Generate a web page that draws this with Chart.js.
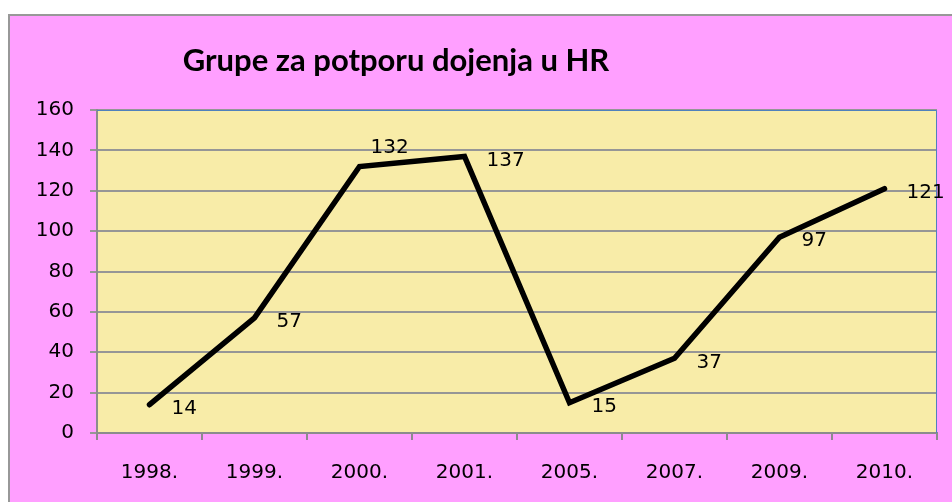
<!DOCTYPE html>
<html>
<head>
<meta charset="utf-8">
<script src="https://cdn.jsdelivr.net/npm/chart.js@4"></script>
<style>
    html, body { margin: 0; padding: 0; background: #ffffff; }
    #wrap { width: 952px; height: 502px; }
</style>
</head>
<body>
<div id="wrap"><canvas id="breastfeedingChart" width="952" height="502"></canvas></div>
<script>
// Chart data
const years = ['1998.', '1999.', '2000.', '2001.', '2005.', '2007.', '2009.', '2010.'];
const groupCounts = [14, 57, 132, 137, 15, 37, 97, 121];
const yTicks = [0, 20, 40, 60, 80, 100, 120, 140, 160];
const chartTitle = 'Grupe za potporu dojenja u HR';

const labelFont = '20px "DejaVu Sans", Verdana, sans-serif';

// pink frame + yellow plot area
const backgroundPlugin = {
    id: 'background',
    beforeDraw(chart) {
        const { ctx, chartArea } = chart;
        ctx.save();
        ctx.fillStyle = '#ff9fff';
        ctx.fillRect(8, 14, chart.width, chart.height);
        ctx.strokeStyle = '#989898';
        ctx.lineWidth = 2;
        ctx.strokeRect(9, 15, chart.width + 10, chart.height + 10);

        ctx.fillStyle = '#f8eca8';
        ctx.fillRect(chartArea.left, chartArea.top, chartArea.right - chartArea.left, chartArea.bottom - chartArea.top);

        // title
        ctx.fillStyle = '#000000';
        ctx.font = 'bold 31px Lato, "Open Sans", sans-serif';
        ctx.textAlign = 'center';
        ctx.textBaseline = 'middle';
        ctx.fillText(chartTitle, 396, 61);
        ctx.restore();
    },
    afterDatasetsDraw(chart) {
        const { ctx, chartArea } = chart;
        ctx.save();
        // thin blue edge on top and right of the plot area
        ctx.strokeStyle = '#4f81bd';
        ctx.lineWidth = 1;
        ctx.beginPath();
        ctx.moveTo(chartArea.left, chartArea.top + 0.5);
        ctx.lineTo(chartArea.right - 0.5, chartArea.top + 0.5);
        ctx.lineTo(chartArea.right - 0.5, chartArea.bottom);
        ctx.stroke();

        // value labels to the right of each point
        const meta = chart.getDatasetMeta(0);
        ctx.fillStyle = '#000000';
        ctx.font = labelFont;
        ctx.textAlign = 'left';
        ctx.textBaseline = 'middle';
        meta.data.forEach((pt, i) => {
            let dx = 22, dy = 4;
            if (i === 2) { dx = 11; dy = -19; }
            ctx.fillText(String(groupCounts[i]), pt.x + dx, pt.y + dy);
        });
        ctx.restore();
    }
};

const ctx = document.getElementById('breastfeedingChart');

new Chart(ctx, {
    type: 'line',
    data: {
        labels: years,
        datasets: [{
            data: groupCounts,
            borderColor: '#000000',
            borderWidth: 5.5,
            borderCapStyle: 'round',
            pointRadius: 0,
            pointHoverRadius: 0,
            tension: 0,
            fill: false
        }]
    },
    options: {
        responsive: false,
        animation: false,
        layout: {
            padding: { top: 110, right: 15, left: 0, bottom: 0 }
        },
        plugins: {
            legend: { display: false },
            tooltip: { enabled: false },
            title: { display: false }
        },
        scales: {
            x: {
                offset: true,
                afterFit: s => { s.height = 69; },
                grid: {
                    offset: true,
                    drawOnChartArea: false,
                    drawTicks: true,
                    tickLength: 7,
                    color: '#8c8c8c',
                    lineWidth: 2
                },
                border: { display: true, color: '#8c8c8c', width: 2 },
                ticks: {
                    color: '#000000',
                    padding: 21,
                    maxRotation: 0,
                    font: { family: '"DejaVu Sans", Verdana, sans-serif', size: 20 }
                }
            },
            y: {
                min: 0,
                max: 160,
                afterFit: s => { s.width = 97; },
                afterBuildTicks: s => { s.ticks = yTicks.map(v => ({ value: v })); },
                grid: {
                    drawTicks: true,
                    tickLength: 7,
                    color: '#969696',
                    lineWidth: 2
                },
                border: { display: true, color: '#8c8c8c', width: 2 },
                ticks: {
                    color: '#000000',
                    padding: 16,
                    font: { family: '"DejaVu Sans", Verdana, sans-serif', size: 20 }
                }
            }
        }
    },
    plugins: [backgroundPlugin]
});
</script>
</body>
</html>
